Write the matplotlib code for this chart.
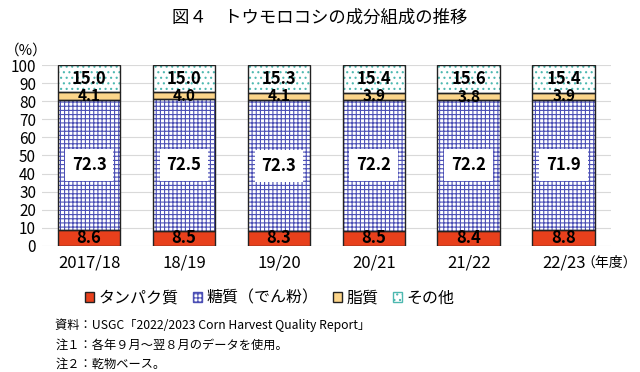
import matplotlib
matplotlib.use('Agg')
import matplotlib.pyplot as plt
from matplotlib.patches import Patch
import numpy as np

plt.rcParams['font.family'] = ['Noto Sans CJK JP', 'DejaVu Sans']
plt.rcParams['hatch.linewidth'] = 0.8

years = ['2017/18', '18/19', '19/20', '20/21', '21/22', '22/23']
protein = [8.6, 8.5, 8.3, 8.5, 8.4, 8.8]
sugar = [72.3, 72.5, 72.3, 72.2, 72.2, 71.9]
fat = [4.1, 4.0, 4.1, 3.9, 3.8, 3.9]
other = [15.0, 15.0, 15.3, 15.4, 15.6, 15.4]

fig = plt.figure(figsize=(6.4, 3.72), dpi=100)
ax = fig.add_axes([0.065, 0.339, 0.89, 0.486])

x = np.arange(len(years))
w = 0.66
protein = np.array(protein)
sugar = np.array(sugar)
fat = np.array(fat)
other = np.array(other)

# fills (hatch colour follows edgecolor, so outlines drawn separately)
ax.bar(x, protein, w, color='#E8401C', edgecolor='#E8401C', linewidth=0, zorder=2)
ax.bar(x, sugar, w, bottom=protein, color='white', edgecolor='#4B4FB5',
       hatch='++++', linewidth=0, zorder=2)
ax.bar(x, fat, w, bottom=protein + sugar, color='#FCD58A', linewidth=0, zorder=2)
ax.bar(x, other, w, bottom=protein + sugar + fat, color='white', edgecolor='#4DB8B0',
       hatch='...', linewidth=0, zorder=2)
bottom = np.zeros(len(x))
for vals in (protein, sugar, fat, other):
    ax.bar(x, vals, w, bottom=bottom, fill=False, edgecolor='#222222', linewidth=1.0, zorder=3)
    bottom = bottom + vals

for i in range(len(x)):
    ax.text(x[i], protein[i] / 2, f'{protein[i]:.1f}', ha='center', va='center',
            fontsize=12, fontweight='bold', zorder=4)
    ax.text(x[i], protein[i] + sugar[i] / 2, f'{sugar[i]:.1f}', ha='center', va='center',
            fontsize=12, fontweight='bold', zorder=4,
            bbox=dict(facecolor='white', edgecolor='none', pad=5))
    ax.text(x[i], protein[i] + sugar[i] + fat[i] / 2, f'{fat[i]:.1f}', ha='center', va='center',
            fontsize=11, fontweight='bold', zorder=4)
    ax.text(x[i], protein[i] + sugar[i] + fat[i] + other[i] / 2, f'{other[i]:.1f}',
            ha='center', va='center', fontsize=12, fontweight='bold', zorder=4)

ax.set_ylim(0, 100)
ax.set_xlim(-0.5, len(x) - 0.5)
ax.set_yticks(range(0, 101, 10))
ax.set_xticks(x)
ax.set_xticklabels(years, fontsize=12)
ax.tick_params(axis='y', labelsize=11, length=0, pad=4)
ax.tick_params(axis='x', length=0, pad=6)
ax.grid(axis='y', color='#D9D9D9', linewidth=0.8, zorder=0)
ax.set_axisbelow(True)
for s in ax.spines.values():
    s.set_visible(False)

fig.text(0.008, 0.865, '（%）', fontsize=10.5, ha='left', va='center')
fig.text(0.908, 0.293, '（年度）', fontsize=10, ha='left', va='center')
fig.text(0.5, 0.952, '図４　トウモロコシの成分組成の推移', fontsize=12.5, ha='center', va='center')

handles = [Patch(facecolor='#E8401C', edgecolor='#222222', label='タンパク質'),
           Patch(facecolor='white', edgecolor='#4B4FB5', hatch='++++', label='糖質（でん粉）'),
           Patch(facecolor='#FCD58A', edgecolor='#222222', label='脂質'),
           Patch(facecolor='white', edgecolor='#4DB8B0', hatch='...', label='その他')]
fig.legend(handles=handles, loc='center', bbox_to_anchor=(0.422, 0.198), ncol=4,
           frameon=False, fontsize=11.5, handlelength=0.55, handleheight=0.55,
           handletextpad=0.3, columnspacing=0.9)

fig.text(0.086, 0.126, '資料：USGC「2022/2023 Corn Harvest Quality Report」', fontsize=8.8, va='center')
fig.text(0.086, 0.073, '注１：各年９月～翌８月のデータを使用。', fontsize=8.8, va='center')
fig.text(0.086, 0.022, '注２：乾物ベース。', fontsize=8.8, va='center')

fig.savefig('out.png', dpi=100)
